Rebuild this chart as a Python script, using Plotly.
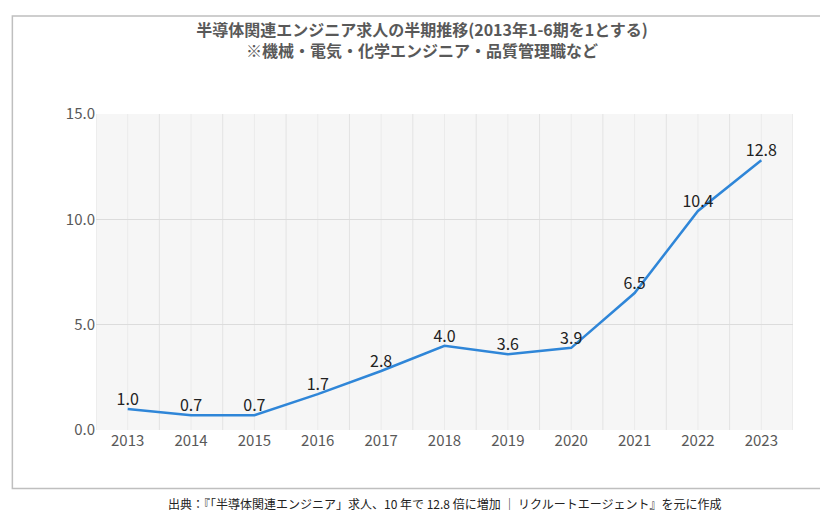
import plotly.graph_objects as go

years = ["2013","2014","2015","2016","2017","2018","2019","2020","2021","2022","2023"]
values = [1.0,0.7,0.7,1.7,2.8,4.0,3.6,3.9,6.5,10.4,12.8]
labels = ["1.0","0.7","0.7","1.7","2.8","4.0","3.6","3.9","6.5","10.4","12.8"]
yticks = [0,5,10,15]
ytick_text = ["0.0","5.0","10.0","15.0"]

fig = go.Figure()
fig.add_trace(go.Scatter(x=list(range(len(years))), y=values, mode="lines+text",
    text=labels, textposition="top center",
    textfont=dict(size=16, color="#222"),
    line=dict(color="#2f86d8", width=2.5), cliponaxis=False, showlegend=False))

fig.update_layout(
    width=828, height=516, paper_bgcolor="white", plot_bgcolor="#f6f6f6",
    margin=dict(l=88, r=43, t=106, b=94),
    font=dict(family="Noto Sans CJK JP", color="#595959"),
    title=dict(text="<b>半導体関連エンジニア求人の半期推移(2013年1-6期を1とする)</b><br><b>※機械・電気・化学エンジニア・品質管理職など</b>",
               x=0.5, xanchor="center", y=0.945, yanchor="top",
               font=dict(size=16, color="#595959", family="Noto Sans CJK JP")),
    xaxis=dict(tickvals=list(range(len(years))), ticktext=years, range=[-0.5, 10.5],
               showgrid=False, tickfont=dict(size=15, color="#595959"), zeroline=False,
               showline=False, ticks=""),
    yaxis=dict(range=[0, 15], tickvals=yticks, ticktext=ytick_text,
               gridcolor="#dcdcdc", gridwidth=1, zeroline=False,
               tickfont=dict(size=15, color="#595959")),
    shapes=[dict(type="rect", xref="paper", yref="paper", x0=-0.12, x1=1.057, y0=-0.185, y1=1.31,
                 line=dict(color="#bfbfbf", width=1.5), fillcolor="rgba(0,0,0,0)", layer="below")]
    + [dict(type="line", xref="x", yref="paper", x0=i+0.5, x1=i+0.5, y0=0, y1=1,
            line=dict(color="#e3e3e3", width=1), layer="below") for i in range(-1, len(years))]
    + [dict(type="line", xref="x", yref="paper", x0=i, x1=i, y0=0, y1=1,
            line=dict(color="#ebebeb", width=1), layer="below") for i in range(len(years))],
    annotations=[dict(text="出典：『「半導体関連エンジニア」求人、10 年で 12.8 倍に増加 ｜ リクルートエージェント』を元に作成",
                      xref="paper", yref="paper", x=0.5, y=-0.265, showarrow=False,
                      font=dict(size=12, color="#222", family="Noto Sans CJK JP"))]
)
fig.write_html("out.html")
